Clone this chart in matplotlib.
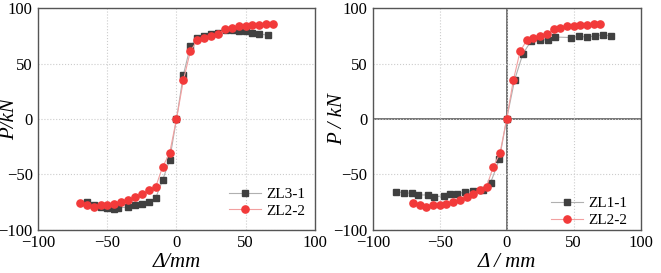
import numpy as np
import matplotlib.pyplot as plt

# ZL3-1 (left panel, squares)
zl31_x = [-65, -60, -55, -50, -45, -42, -35, -30, -25, -20, -15, -10, -5, 0,
          5, 10, 15, 20, 25, 30, 36, 41, 45, 50, 55, 60, 66]
zl31_y = [-75, -78, -79, -80, -81, -80, -79.5, -78, -77, -75, -71, -55, -37, 0,
          40, 65.5, 73, 75, 77, 78, 80.5, 80, 79.5, 79, 78, 77, 75.5]

# ZL2-2 (both panels, circles)
zl22_x = [-70, -65, -60, -55, -50, -45, -40, -35, -30, -25, -20, -15, -10, -5, 0,
          5, 10, 15, 20, 25, 30, 35, 40, 45, 50, 55, 60, 65, 70]
zl22_y = [-76, -78, -79, -78, -77.5, -76.5, -75, -73, -70.5, -68, -64, -61, -43, -31, 0,
          35, 61, 71, 73, 75, 77, 81, 82, 84, 84, 84.5, 85, 85.5, 86]

# ZL1-1 (right panel, squares)
zl11_x = [-83, -77, -71, -66, -59, -54, -47, -42, -37, -31, -25, -18, -12, -5.5, 0,
          6, 12, 18, 25, 31, 36, 48, 54, 60, 66, 72, 78]
zl11_y = [-65.5, -66.5, -67, -68.5, -68.5, -70.5, -69, -68, -68, -65.5, -64.5, -64, -57.5, -36.5, 0,
          35.5, 58.5, 70, 71.5, 71.5, 74, 73.5, 74.5, 74, 75, 76, 75]

plt.rcParams['font.family'] = ['Liberation Serif', 'DejaVu Serif']

sq_col = '#404040'
rd_col = '#f23a3a'

fig = plt.figure(figsize=(6.61, 2.73), dpi=100)
ax1 = fig.add_axes([0.058, 0.158, 0.418, 0.812])
ax2 = fig.add_axes([0.564, 0.158, 0.405, 0.812])

panels = [(ax1, zl31_x, zl31_y, 'ZL3-1', 'P/kN', 'Δ/mm', -0.07, (0.965, 0.124)),
          (ax2, zl11_x, zl11_y, 'ZL1-1', 'P / kN', 'Δ / mm', -0.097, (0.952, 0.081))]

for ax, sx, sy, slab, ylab, xlab, ylx, leg_pos in panels:
    ax.grid(True, color='#cccccc', linestyle=':', linewidth=0.8)
    if ax is ax2:
        ax.axhline(0, color='#6a6a6a', lw=1.3, zorder=1)
        ax.axvline(0, color='#6a6a6a', lw=1.3, zorder=1)
    ax.plot(sx, sy, color='#b0b0b0', lw=0.8, marker='s', ms=4.6,
            mfc=sq_col, mec=sq_col, label=slab, zorder=3)
    ax.plot(zl22_x, zl22_y, color='#f2a0a0', lw=0.8, marker='o', ms=5.2,
            mfc=rd_col, mec=rd_col, label='ZL2-2', zorder=4)
    ax.set_xlim(-100, 100)
    ax.set_ylim(-100, 100)
    ax.set_xticks([-100, -50, 0, 50, 100])
    ax.set_yticks([-100, -50, 0, 50, 100])
    ax.tick_params(length=0, labelsize=12, pad=4)
    for s in ax.spines.values():
        s.set_color('#555555')
        s.set_linewidth(1.0)
    ax.set_xlabel(xlab, fontsize=15, style='italic', labelpad=1)
    ax.set_ylabel(ylab, fontsize=15, style='italic')
    ax.yaxis.set_label_coords(ylx, 0.5)
    ax.legend(loc='center right', bbox_to_anchor=leg_pos, frameon=False, fontsize=11,
              handlelength=2.1, handletextpad=0.35, labelspacing=0.2,
              borderpad=0, borderaxespad=0)

fig.savefig('out.png', dpi=100)
